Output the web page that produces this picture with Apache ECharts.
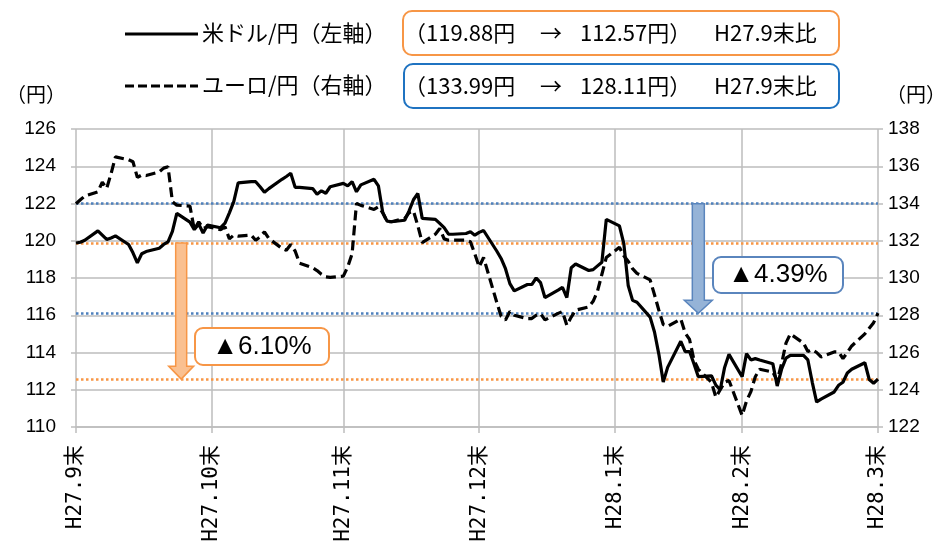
<!DOCTYPE html>
<html><head><meta charset="utf-8">
<script src="https://cdn.jsdelivr.net/npm/echarts@6/dist/echarts.min.js"></script>
<style>html,body{margin:0;padding:0;background:#fff;}#c{width:945px;height:548px;}</style>
</head><body><div id="c"></div>
<script>
// ---------- data ----------
const tradeDates = [
'2015-09-30',
'2015-10-01','2015-10-02','2015-10-05','2015-10-06','2015-10-07','2015-10-08','2015-10-09','2015-10-12','2015-10-13','2015-10-14','2015-10-15','2015-10-16','2015-10-19','2015-10-20','2015-10-21','2015-10-22','2015-10-23','2015-10-26','2015-10-27','2015-10-28','2015-10-29','2015-10-30',
'2015-11-02','2015-11-03','2015-11-04','2015-11-05','2015-11-06','2015-11-09','2015-11-10','2015-11-11','2015-11-12','2015-11-13','2015-11-16','2015-11-17','2015-11-18','2015-11-19','2015-11-20','2015-11-23','2015-11-24','2015-11-25','2015-11-26','2015-11-27','2015-11-30',
'2015-12-01','2015-12-02','2015-12-03','2015-12-04','2015-12-07','2015-12-08','2015-12-09','2015-12-10','2015-12-11','2015-12-14','2015-12-15','2015-12-16','2015-12-17','2015-12-18','2015-12-21','2015-12-22','2015-12-23','2015-12-24','2015-12-25','2015-12-28','2015-12-29','2015-12-30','2015-12-31',
'2016-01-01','2016-01-04','2016-01-05','2016-01-06','2016-01-07','2016-01-08','2016-01-11','2016-01-12','2016-01-13','2016-01-14','2016-01-15','2016-01-18','2016-01-19','2016-01-20','2016-01-21','2016-01-22','2016-01-25','2016-01-26','2016-01-27','2016-01-28','2016-01-29',
'2016-02-01','2016-02-02','2016-02-03','2016-02-04','2016-02-05','2016-02-08','2016-02-09','2016-02-10','2016-02-11','2016-02-12','2016-02-15','2016-02-16','2016-02-17','2016-02-18','2016-02-19','2016-02-22','2016-02-23','2016-02-24','2016-02-25','2016-02-26','2016-02-29',
'2016-03-01','2016-03-02','2016-03-03','2016-03-04','2016-03-07','2016-03-08','2016-03-09','2016-03-10','2016-03-11','2016-03-14','2016-03-15','2016-03-16','2016-03-17','2016-03-18','2016-03-21','2016-03-22','2016-03-23','2016-03-24','2016-03-25','2016-03-28','2016-03-29','2016-03-30','2016-03-31'
];
const usdValues = [
119.88,
119.92,120.03,120.53,120.30,120.07,120.15,120.26,119.80,119.35,118.81,119.30,119.42,119.60,119.80,119.94,120.50,121.47,121.00,120.60,120.90,120.42,120.84,
120.70,120.95,121.50,122.10,123.11,123.17,123.17,122.90,122.60,122.80,123.30,123.45,123.62,122.87,122.87,122.80,122.50,122.68,122.55,122.90,123.08,
122.95,123.17,122.63,123.00,123.30,122.95,121.50,121.05,121.02,121.10,121.60,122.20,122.54,121.20,121.15,120.93,120.70,120.35,120.35,120.39,120.48,120.30,120.45,
120.55,119.45,119.05,118.50,117.70,117.31,117.65,117.65,118.00,117.75,116.95,117.35,117.50,116.95,118.55,118.75,118.40,118.45,118.65,118.85,121.15,
120.80,119.85,117.60,116.80,116.70,115.90,115.10,113.90,112.41,113.20,114.60,114.05,114.05,113.40,112.70,112.75,112.25,112.00,113.20,113.90,112.70,
113.94,113.60,113.67,113.60,113.40,112.20,113.10,113.70,113.85,113.85,113.60,112.40,111.34,111.50,111.88,112.24,112.40,112.90,113.10,113.45,112.55,112.35,112.57
];
const eurValues = [
133.99,
134.20,134.40,134.63,135.15,134.81,135.60,136.50,136.35,136.24,135.40,135.53,135.50,135.70,135.90,135.97,134.10,133.91,133.86,132.60,133.02,132.66,132.75,
132.60,132.75,132.10,132.30,132.25,132.30,132.03,132.20,132.48,132.12,131.59,131.49,131.80,131.45,130.80,130.55,130.40,130.20,130.06,130.03,130.10,
130.60,131.30,134.00,133.90,133.68,133.82,133.50,133.02,133.02,133.20,133.50,133.60,132.80,131.90,132.35,132.66,132.10,132.03,132.03,132.03,131.94,131.30,130.60,
131.10,128.70,127.95,127.75,128.20,128.00,127.82,127.82,128.00,128.09,127.75,128.10,128.20,127.46,127.90,128.27,128.45,128.75,129.30,130.20,131.10,
131.65,131.20,130.90,130.50,130.25,129.90,129.10,128.27,127.50,127.40,127.80,127.05,126.70,125.60,125.10,124.40,123.60,124.00,124.40,124.50,122.62,
123.40,123.90,124.70,125.10,124.95,124.50,125.40,126.50,127.00,126.50,126.05,126.15,126.00,125.76,126.03,126.03,125.67,126.00,126.35,127.00,127.30,127.60,128.11
];
const seriesNames = ['米ドル/円（左軸）', 'ユーロ/円（右軸）'];
const usdStartEnd = [119.88, 112.57];
const eurStartEnd = [133.99, 128.11];
const monthEndDates = ['2015-09-30','2015-10-31','2015-11-30','2015-12-31','2016-01-31','2016-02-29','2016-03-31'];
const monthEndLabels = ['H27.9末','H27.10末','H27.11末','H27.12末','H28.1末','H28.2末','H28.3末'];
const leftAxisRange = [110, 126, 2];
const rightAxisRange = [122, 138, 2];
const arrowDates = ['2015-10-24', '2016-02-19'];
const compareLabel = 'H27.9末比';
const unitLabel = '（円）';

// ---------- build calendar-day category axis ----------
const days = [];
for (let t = Date.UTC(2015, 8, 30); t <= Date.UTC(2016, 2, 31); t += 86400000) {
  days.push(new Date(t).toISOString().slice(0, 10));
}
const usdMap = {}, eurMap = {};
tradeDates.forEach((d, i) => { usdMap[d] = usdValues[i]; eurMap[d] = eurValues[i]; });
const usdData = days.map(d => (d in usdMap ? usdMap[d] : null));
const eurData = days.map(d => (d in eurMap ? eurMap[d] : null));
const monthEndIdx = new Set(monthEndDates.map(d => days.indexOf(d)));
const labelOf = {};
monthEndDates.forEach((d, i) => { labelOf[d] = monthEndLabels[i]; });

const GRAY = '#bdbdbd';
const ORANGE = '#f79646';
const BLUE = '#4f81bd';
const numFont = "'Liberation Sans Narrow','Liberation Sans',sans-serif";
const jpFont = "'Noto Sans CJK JP',sans-serif";

const chart = echarts.init(document.getElementById('c'), null, { renderer: 'canvas' });
const option = {
  animation: false,
  backgroundColor: '#fff',
  grid: { left: 76, right: 67, top: 129, bottom: 121 },
  xAxis: {
    type: 'category',
    data: days,
    boundaryGap: false,
    axisLine: { show: true, lineStyle: { color: GRAY, width: 1.5 } },
    axisTick: { show: true, length: 6, interval: (i) => monthEndIdx.has(i), lineStyle: { color: GRAY, width: 1.5 } },
    axisLabel: {
      show: true, interval: (i) => monthEndIdx.has(i), rotate: 90, margin: 18,
      formatter: (v) => labelOf[v] || '',
      fontFamily: "'DejaVu Sans Mono','Noto Sans CJK JP',monospace", fontSize: 21, color: '#000'
    },
    splitLine: { show: true, interval: (i) => monthEndIdx.has(i), lineStyle: { color: GRAY, width: 1.5 } }
  },
  yAxis: [
    {
      type: 'value', min: leftAxisRange[0], max: leftAxisRange[1], interval: leftAxisRange[2],
      axisLine: { show: false },
      axisTick: { show: true, length: 5, lineStyle: { color: GRAY, width: 1.5 } },
      axisLabel: { margin: 20, fontFamily: numFont, fontSize: 19, color: '#000' },
      splitLine: { show: true, lineStyle: { color: GRAY, width: 1.5 } }
    },
    {
      type: 'value', min: rightAxisRange[0], max: rightAxisRange[1], interval: rightAxisRange[2],
      axisLine: { show: false },
      axisTick: { show: true, length: 5, lineStyle: { color: GRAY, width: 1.5 } },
      axisLabel: { margin: 10, fontFamily: numFont, fontSize: 19, color: '#000' },
      splitLine: { show: false }
    }
  ],
  series: [
    {
      name: seriesNames[0], type: 'line', yAxisIndex: 0, data: usdData, connectNulls: true,
      showSymbol: false, symbol: 'none', z: 5,
      lineStyle: { color: '#000', width: 3.2, type: 'solid' },
      markLine: {
        silent: true, symbol: ['none', 'none'], label: { show: false }, z: 3,
        lineStyle: { color: ORANGE, width: 2.5, type: [2.5, 2.5] },
        data: usdStartEnd.map(v => ({ yAxis: v }))
      }
    },
    {
      name: seriesNames[1], type: 'line', yAxisIndex: 1, data: eurData, connectNulls: true,
      showSymbol: false, symbol: 'none', z: 5,
      lineStyle: { color: '#000', width: 3.2, type: [10, 5] },
      markLine: {
        silent: true, symbol: ['none', 'none'], label: { show: false }, z: 3,
        lineStyle: { color: BLUE, width: 2.5, type: [2.5, 2.5] },
        data: eurStartEnd.map(v => ({ yAxis: v }))
      }
    }
  ]
};
chart.setOption(option);

// ---------- annotations ----------
function arrow(cx, y0, y1, shaftW, headW, headL) {
  const hs = shaftW / 2, hh = headW / 2;
  return [[cx - hs, y0], [cx + hs, y0], [cx + hs, y1 - headL], [cx + hh, y1 - headL], [cx, y1], [cx - hh, y1 - headL], [cx - hs, y1 - headL]];
}
const usdPct = (usdStartEnd[1] - usdStartEnd[0]) / usdStartEnd[0] * 100;
const eurPct = (eurStartEnd[1] - eurStartEnd[0]) / eurStartEnd[0] * 100;
const pctText = (p) => (p < 0 ? '▲' : '') + Math.abs(p).toFixed(2) + '%';

const ia = days.indexOf(arrowDates[0]);
const ib = days.indexOf(arrowDates[1]);
const pA0 = chart.convertToPixel({ xAxisIndex: 0, yAxisIndex: 0 }, [ia, usdStartEnd[0]]);
const pA1 = chart.convertToPixel({ xAxisIndex: 0, yAxisIndex: 0 }, [ia, usdStartEnd[1]]);
const pB0 = chart.convertToPixel({ xAxisIndex: 0, yAxisIndex: 1 }, [ib, eurStartEnd[0]]);
const pB1 = chart.convertToPixel({ xAxisIndex: 0, yAxisIndex: 1 }, [ib, eurStartEnd[1]]);

const txt = (text, x, y, size, opts) => Object.assign({
  type: 'text', z: 20,
  style: Object.assign({ text, x, y, font: size + 'px ' + jpFont, fill: '#000', textAlign: 'left', textVerticalAlign: 'middle' }, opts || {})
});
const graphics = [
  // legend row 1
  { type: 'line', z: 20, shape: { x1: 125, y1: 34, x2: 198, y2: 34 }, style: { stroke: '#000', lineWidth: 3.2 } },
  txt(seriesNames[0], 202, 33, 22),
  { type: 'rect', z: 19, shape: { x: 403, y: 11, width: 436, height: 44, r: 9 }, style: { fill: '#fff', stroke: ORANGE, lineWidth: 2 } },
  txt('（' + usdStartEnd[0].toFixed(2) + '円', 404, 33, 22),
  txt('→', 540, 33, 22),
  txt(usdStartEnd[1].toFixed(2) + '円）', 580, 33, 22),
  txt(compareLabel, 714, 33, 22),
  // legend row 2
  { type: 'line', z: 20, shape: { x1: 125, y1: 86, x2: 198, y2: 86 }, style: { stroke: '#000', lineWidth: 3.2, lineDash: [9, 4] } },
  txt(seriesNames[1], 202, 85, 22),
  { type: 'rect', z: 19, shape: { x: 404, y: 64, width: 435, height: 44, r: 9 }, style: { fill: '#fff', stroke: '#1f73c1', lineWidth: 2 } },
  txt('（' + eurStartEnd[0].toFixed(2) + '円', 404, 86, 22),
  txt('→', 540, 86, 22),
  txt(eurStartEnd[1].toFixed(2) + '円）', 580, 86, 22),
  txt(compareLabel, 714, 86, 22),
  // units
  txt(unitLabel, 6, 94, 20),
  txt(unitLabel, 886, 94, 20),
  // arrows
  { type: 'polygon', z: 12, shape: { points: arrow(pA0[0], pA0[1], pA1[1], 11, 25, 13) }, style: { fill: '#fac090', stroke: ORANGE, lineWidth: 1.5 } },
  { type: 'polygon', z: 12, shape: { points: arrow(pB0[0], pB0[1], pB1[1], 12, 28, 13) }, style: { fill: '#95b3d7', stroke: '#5a85bd', lineWidth: 1.5 } },
  // pct boxes
  { type: 'rect', z: 19, shape: { x: 195, y: 328, width: 134, height: 37, r: 8 }, style: { fill: '#fff', stroke: ORANGE, lineWidth: 2 } },
  txt(pctText(usdPct), 262, 347, 26, { textAlign: 'center', font: "26px 'Liberation Sans','DejaVu Sans',sans-serif" }),
  { type: 'rect', z: 19, shape: { x: 713, y: 257, width: 130, height: 36, r: 8 }, style: { fill: '#fff', stroke: '#5a85bd', lineWidth: 2 } },
  txt(pctText(eurPct), 778, 275, 26, { textAlign: 'center', font: "26px 'Liberation Sans','DejaVu Sans',sans-serif" })
];
chart.setOption({ graphic: graphics });
</script>
</body></html>
